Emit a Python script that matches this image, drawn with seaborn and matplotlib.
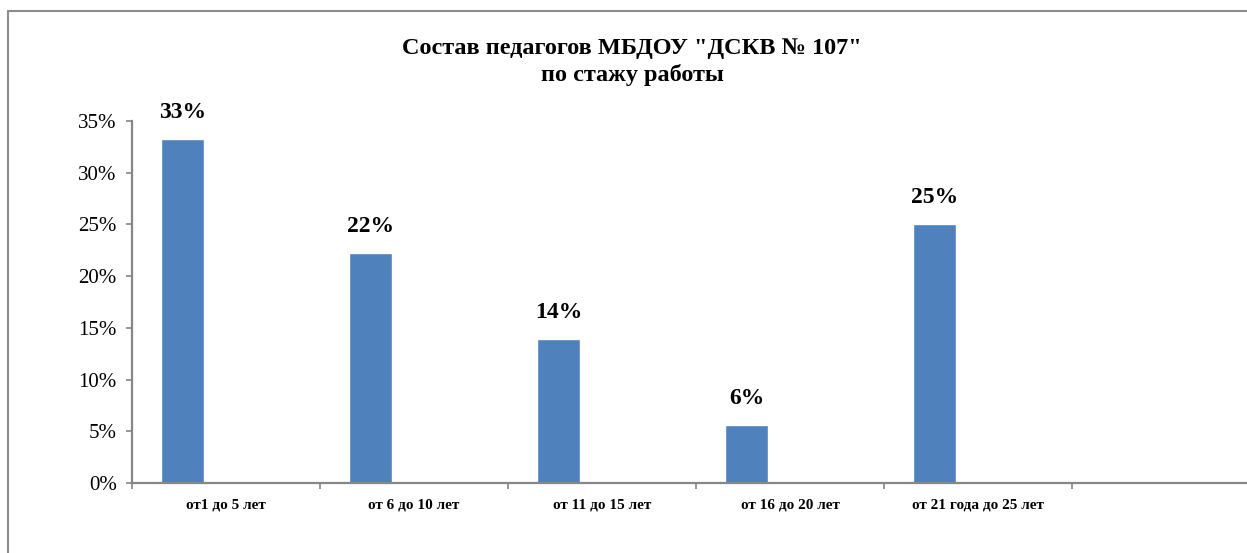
import matplotlib
matplotlib.use("Agg")
import matplotlib.pyplot as plt
import numpy as np
import pandas as pd
import seaborn as sns
from matplotlib.lines import Line2D
from matplotlib.ticker import FixedLocator

# data
categories = ["от1 до 5 лет", "от 6 до 10 лет", "от 11 до 15 лет",
              "от 16 до 20 лет", "от 21 года до 25 лет"]
series_names = ["Ряд1", "Ряд2", "Ряд3"]
share_1 = [33.3, 22.2, 13.9, 5.6, 25.0]
share_2 = [np.nan] * 5
share_3 = [np.nan] * 5
value_labels = ["33%", "22%", "14%", "6%", "25%"]
y_ticks = [0, 5, 10, 15, 20, 25, 30, 35]
title = 'Состав педагогов МБДОУ "ДСКВ № 107"\nпо стажу работы'

BAR_COLOR = "#4F81BD"
AXIS_COLOR = "#868686"

df = pd.DataFrame({
    "category": categories * 3,
    "series": [s for s in series_names for _ in categories],
    "value": share_1 + share_2 + share_3,
})

sns.set_style("white")
plt.rcParams["font.family"] = ["Liberation Serif", "DejaVu Serif"]
plt.rcParams["text.color"] = "black"
plt.rcParams["xtick.labelcolor"] = "black"
plt.rcParams["ytick.labelcolor"] = "black"

fig = plt.figure(figsize=(12.47, 5.53), dpi=100)
ax = fig.add_axes([132 / 1247, 70 / 553, 1128 / 1247, 362 / 553])

sns.barplot(data=df, x="category", y="value", hue="series",
            order=categories, hue_order=series_names,
            palette=[BAR_COLOR] * 3, saturation=1, width=0.69,
            legend=False, ax=ax)

ax.bar_label(ax.containers[0], labels=value_labels, padding=11.5,
             fontsize=17, fontweight="bold", color="black")

ax.set_xlim(-0.5, 5.5)
ax.set_ylim(0, 35)
ax.set_yticks(y_ticks)
ax.set_yticklabels([f"{t}%" for t in y_ticks], fontsize=15)
ax.set_xticks(range(len(categories)))
ax.set_xticklabels(categories, fontsize=11, fontweight="bold")
ax.xaxis.set_minor_locator(FixedLocator(np.arange(-0.5, 6, 1)))
ax.tick_params(axis="x", which="major", length=0, pad=11)
ax.tick_params(axis="x", which="minor", length=4, width=1.2,
               color=AXIS_COLOR, direction="out", bottom=True)
ax.tick_params(axis="y", length=4, width=1.2, color=AXIS_COLOR,
               direction="out", pad=7, left=True)
ax.set_xlabel("")
ax.set_ylabel("")

for side in ["top", "right"]:
    ax.spines[side].set_visible(False)
for side in ["left", "bottom"]:
    ax.spines[side].set_color(AXIS_COLOR)
    ax.spines[side].set_linewidth(1.6)

fig.text(0.507, 1 - 62 / 553, title, ha="center", va="center",
         fontsize=17.5, fontweight="bold", linespacing=1.3)

# chart area frame (top and left edges visible in the reference)
bx, by = 8 / 1247, 1 - 11 / 553
fig.add_artist(Line2D([bx, 1], [by, by], transform=fig.transFigure,
                      color="#8c8c8c", lw=1.5))
fig.add_artist(Line2D([bx, bx], [0, by], transform=fig.transFigure,
                      color="#8c8c8c", lw=1.5))

fig.savefig("out.png", dpi=100)
